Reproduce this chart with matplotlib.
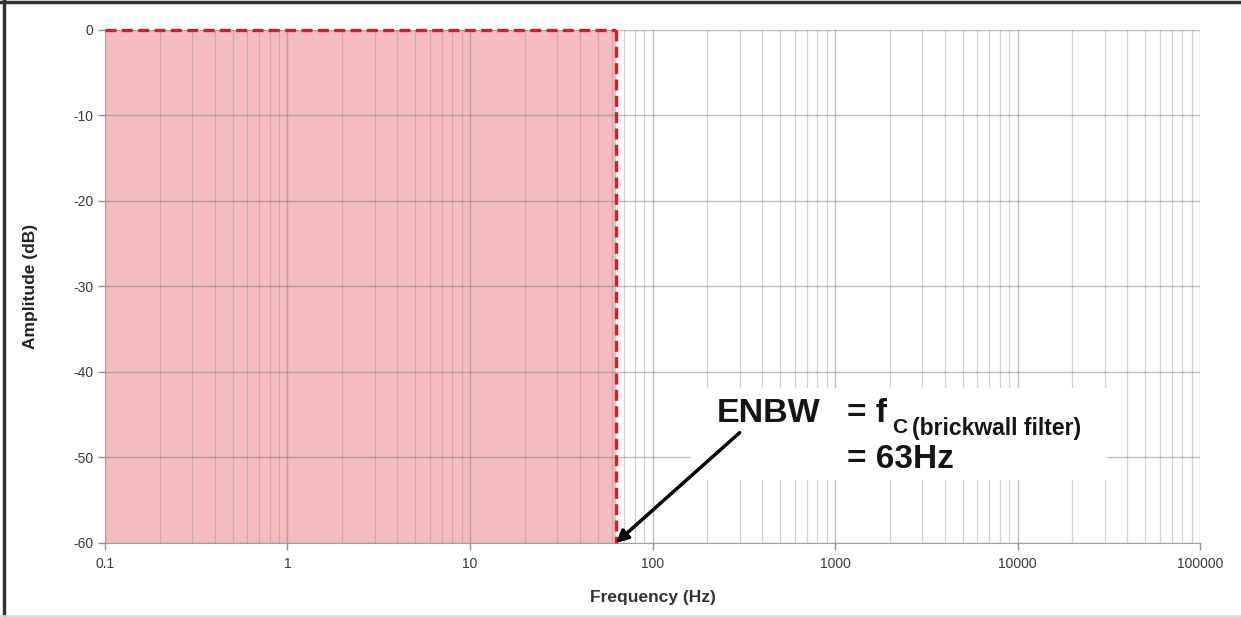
import numpy as np
import matplotlib
matplotlib.use('Agg')
import matplotlib.pyplot as plt
from matplotlib.lines import Line2D
from matplotlib.patches import Rectangle

plt.rcParams['font.family'] = ['Liberation Sans', 'DejaVu Sans']
plt.rcParams['axes.unicode_minus'] = False

# data
freq_ticks = [0.1, 1, 10, 100, 1000, 10000, 100000]
freq_labels = ['0.1', '1', '10', '100', '1000', '10000', '100000']
amp_ticks = [0, -10, -20, -30, -40, -50, -60]
fc = 63            # brickwall cutoff (Hz)
pass_freq = [0.1, fc]
pass_amp = [0, 0]
floor_amp = -60

fig = plt.figure(figsize=(12.41, 6.18), dpi=100)
ax = fig.add_axes([0.0846, 0.1214, 0.8824, 0.8301])
ax.set_xscale('log')
ax.set_xlim(freq_ticks[0], freq_ticks[-1])
ax.set_ylim(floor_amp, 0)

# pass band fill + brickwall edge
red = '#d01f2a'
dash = (0, (3.3, 1.6))
ax.fill_between(pass_freq, pass_amp, floor_amp, color='#f5bcc0', lw=0, zorder=1)
ax.plot(pass_freq, pass_amp, color=red, lw=2.4, ls=dash, zorder=4, clip_on=False)
ax.plot([fc, fc], [0, floor_amp], color=red, lw=2.4, ls=dash, zorder=4, clip_on=False)

# grid
ax.set_axisbelow(False)
ax.grid(True, which='major', color='#707070', alpha=0.45, lw=1.0)
ax.grid(True, which='minor', axis='x', color='#808080', alpha=0.35, lw=0.9)
ax.set_xticks(freq_ticks)
ax.set_xticklabels(freq_labels)
ax.set_yticks(amp_ticks)
ax.tick_params(axis='both', which='major', labelsize=10, labelcolor='#3a3a3a',
               color='#909090', length=5, width=1)
ax.tick_params(axis='x', which='major', pad=5)
ax.tick_params(axis='x', which='minor', length=0)
for s in ['top', 'right', 'left']:
    ax.spines[s].set_visible(False)
ax.spines['bottom'].set_color('#a0a0a0')

ax.set_xlabel('Frequency (Hz)', fontsize=12.5, fontweight='bold', color='#333333',
              labelpad=14)
ax.set_ylabel('Amplitude (dB)', fontsize=12.5, fontweight='bold', color='#222222',
              labelpad=25)

# white label box covering the grid
box = Rectangle((0.535, 0.123), 0.38, 0.18, transform=ax.transAxes,
                facecolor='white', edgecolor='none', zorder=3)
ax.add_patch(box)

txt = dict(fontweight='bold', color='#151515', va='center', ha='left', zorder=5)
ax.text(225, -44.91, 'ENBW', fontsize=24.5, **txt)
ax.text(1164, -44.91, '= f', fontsize=24, **txt)
ax.text(2051, -46.55, 'C', fontsize=15, **txt)
ax.text(2642, -46.6, '(brickwall filter)', fontsize=16.5, **txt)
ax.text(1164, -50.29, '= 63Hz', fontsize=24, **txt)

ax.annotate('', xy=(fc, -60), xytext=(300, -47.1),
            arrowprops=dict(arrowstyle='-|>', color='black', lw=2.5,
                            mutation_scale=18, shrinkA=0, shrinkB=0),
            zorder=6, annotation_clip=False)

# outer frame as in the screenshot
fig.add_artist(Line2D([0.003, 0.003], [0, 1], color='#333333', lw=2.5))
fig.add_artist(Line2D([0, 1], [0.996, 0.996], color='#333333', lw=2.5))
fig.add_artist(Line2D([0, 1], [0.004, 0.004], color='#d8d8d8', lw=2))

fig.savefig('out.png', dpi=100)
